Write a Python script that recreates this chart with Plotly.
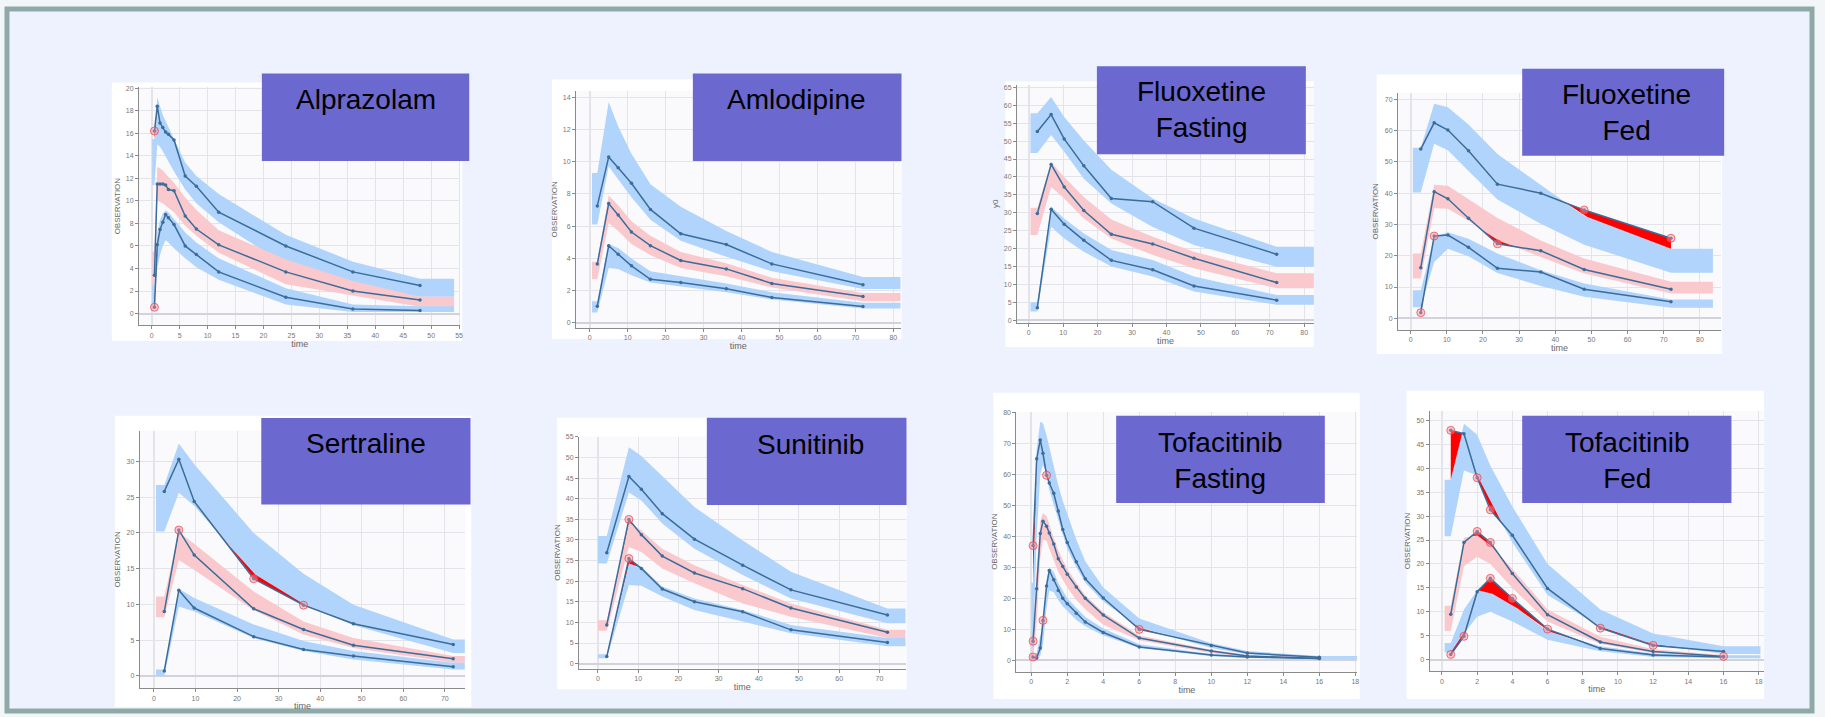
import numpy as np
import plotly.graph_objects as go

# ---------------- data ----------------
# Alprazolam
ALP_T = [0.5, 1, 1.5, 2, 2.5, 3, 4, 6, 8, 12, 24, 36, 48]
ALP_P95 = [16.2, 18.4, 16.9, 16.5, 16.1, 15.9, 15.4, 12.2, 11.3, 9.0, 6.0, 3.7, 2.5]
ALP_P50 = [3.4, 11.5, 11.5, 11.5, 11.4, 11.0, 10.9, 8.65, 7.5, 6.1, 3.7, 2.0, 1.2]
ALP_P05 = [0.56, 6.1, 7.45, 8.1, 8.8, 8.5, 7.9, 6.0, 5.25, 3.7, 1.45, 0.4, 0.27]
ALP_P95_LO = [11.4, 15.0, 14.8, 14.4, 14.0, 13.5, 12.6, 11.0, 9.8, 8.1, 4.3, 2.55, 1.5]
ALP_P95_HI = [15.5, 19.2, 18.4, 17.6, 17.0, 16.4, 15.5, 13.4, 12.2, 10.6, 7.0, 4.6, 3.1]
ALP_P50_LO = [2.0, 10.0, 9.9, 9.8, 9.6, 9.4, 9.0, 7.8, 6.9, 5.4, 2.6, 1.6, 0.6]
ALP_P50_HI = [5.5, 13.0, 12.9, 12.7, 12.4, 12.1, 11.6, 10.3, 9.2, 7.4, 4.8, 2.9, 1.5]
ALP_P05_LO = [0.9, 4.0, 5.2, 6.0, 6.5, 6.3, 5.8, 4.9, 4.1, 3.0, 0.8, 0.15, 0.15]
ALP_P05_HI = [2.5, 7.2, 8.3, 8.9, 9.15, 9.0, 8.4, 7.2, 6.3, 4.9, 2.25, 0.8, 0.65]
ALP_BAND_X = [0.1, 54.1]

# Amlodipine
AML_T = [2, 5, 7.5, 11, 16, 24, 36, 48, 72]
AML_P95 = [7.26, 10.3, 9.63, 8.66, 7.04, 5.53, 4.86, 3.66, 2.37]
AML_P50 = [3.66, 7.4, 6.69, 5.64, 4.79, 3.87, 3.35, 2.45, 1.63]
AML_P05 = [1.03, 4.79, 4.26, 3.54, 2.7, 2.51, 2.12, 1.58, 1.01]
AML_P95_LO = [6.1, 9.7, 8.9, 7.8, 6.4, 5.1, 4.1, 3.2, 2.1]
AML_P95_HI = [9.3, 13.7, 12.2, 10.5, 8.6, 7.2, 5.7, 4.4, 2.85]
AML_P50_LO = [2.7, 6.2, 5.7, 4.9, 4.2, 3.4, 2.9, 2.2, 1.35]
AML_P50_HI = [3.8, 7.9, 7.3, 6.3, 5.4, 4.4, 3.7, 2.8, 1.85]
AML_P05_LO = [0.65, 3.4, 3.35, 2.95, 2.5, 2.25, 1.9, 1.45, 0.9]
AML_P05_HI = [1.35, 4.9, 4.65, 4.0, 3.2, 2.9, 2.45, 1.9, 1.25]
AML_BAND_X = [0.6, 82]

# Fluoxetine fasting
FLF_T = [2.5, 6.5, 10.3, 16, 24, 36, 48, 72]
FLF_P95 = [52.7, 57.4, 50.6, 43.1, 34.0, 33.1, 25.7, 18.4]
FLF_P50 = [29.8, 43.5, 37.2, 30.6, 24.0, 21.3, 17.3, 10.5]
FLF_P05 = [3.5, 31.0, 26.8, 22.3, 16.7, 14.1, 9.55, 5.6]
FLF_P95_LO = [46.7, 51.7, 47.0, 39.5, 32.6, 26.0, 21.0, 14.9]
FLF_P95_HI = [57.8, 62.3, 56.7, 50.2, 42.0, 34.0, 28.4, 20.5]
FLF_P50_LO = [23.8, 37.2, 34.0, 28.4, 22.8, 18.2, 14.5, 8.9]
FLF_P50_HI = [31.4, 44.2, 40.0, 34.4, 28.1, 23.3, 19.1, 13.1]
FLF_P05_LO = [2.4, 26.1, 22.8, 19.1, 15.0, 12.2, 8.0, 4.3]
FLF_P05_HI = [5.0, 31.7, 28.4, 24.2, 19.6, 16.8, 12.2, 7.05]
FLF_BAND_X = [0.5, 83]

# Fluoxetine fed
FLD_T = [2.8, 6.5, 10.3, 16, 24, 36, 48, 72]
FLD_P95 = [54.1, 62.5, 60.2, 53.6, 42.9, 40.0, 34.6, 25.6]
FLD_P50 = [16.2, 40.5, 38.2, 32.0, 23.8, 21.6, 15.6, 9.3]
FLD_P05 = [1.8, 26.3, 26.6, 22.7, 16.0, 14.8, 9.3, 5.3]
FLD_P95_LO = [40.2, 55.8, 53.7, 47.1, 38.0, 30.2, 23.5, 14.6]
FLD_P95_HI = [54.5, 68.6, 67.5, 62.0, 52.5, 42.7, 32.8, 22.2]
FLD_P50_LO = [12.7, 35.2, 35.0, 31.2, 24.9, 19.6, 14.3, 7.9]
FLD_P50_HI = [20.7, 42.7, 42.4, 38.1, 32.1, 24.9, 19.1, 11.7]
FLD_P05_LO = [3.5, 18.0, 22.2, 19.8, 14.5, 10.3, 6.9, 3.4]
FLD_P05_HI = [9.0, 26.0, 27.5, 25.4, 20.7, 15.4, 11.1, 6.0]
FLD_BAND_X = [0.6, 83.6]

# Sertraline
SER_T = [2.5, 6, 9.7, 24, 36, 48, 72]
SER_P95 = [25.8, 30.3, 24.4, 13.6, 9.9, 7.3, 4.4]
SER_P50 = [9.0, 20.4, 16.9, 9.4, 6.5, 4.3, 2.4]
SER_P05 = [0.7, 12.0, 9.5, 5.5, 3.7, 2.8, 1.3]
SER_P95_LO = [20.2, 25.6, 23.8, 14.3, 10.0, 7.1, 3.2]
SER_P95_HI = [26.7, 32.5, 29.6, 20.0, 14.3, 9.95, 5.1]
SER_P50_LO = [8.2, 16.2, 14.8, 9.2, 5.8, 3.9, 1.85]
SER_P50_HI = [11.1, 20.1, 18.5, 11.8, 7.6, 5.3, 2.8]
SER_P05_LO = [0.0, 9.7, 9.0, 5.3, 3.5, 2.3, 0.9]
SER_P05_HI = [0.9, 12.2, 10.9, 7.2, 4.9, 3.5, 1.85]
SER_BAND_X = [0.5, 74.8]

# Sunitinib
SUN_T = [2.2, 7.7, 10.8, 16, 24, 36, 48, 72]
SUN_P95 = [26.9, 45.4, 42.3, 36.4, 30.2, 23.9, 17.9, 11.8]
SUN_P50 = [9.4, 35.0, 31.3, 26.1, 22.0, 18.2, 13.5, 7.6]
SUN_P05 = [1.7, 25.5, 23.1, 18.1, 15.0, 12.6, 8.2, 5.1]
SUN_P95_LO = [24.3, 41.5, 39.6, 34.0, 27.9, 21.5, 15.8, 9.8]
SUN_P95_HI = [31.0, 52.5, 50.4, 45.6, 38.0, 29.9, 22.3, 13.4]
SUN_P50_LO = [8.0, 28.3, 27.1, 23.1, 19.5, 14.6, 11.4, 6.2]
SUN_P50_HI = [10.5, 34.4, 32.3, 27.9, 23.9, 19.1, 14.6, 8.2]
SUN_P05_LO = [1.3, 19.1, 18.9, 16.3, 13.0, 10.2, 7.4, 4.2]
SUN_P05_HI = [2.25, 24.3, 23.5, 18.7, 15.8, 13.0, 9.4, 6.2]
SUN_BAND_X = [0.0, 76.7]

# Tofacitinib fasting
TFA_T = [0.1, 0.3, 0.5, 0.65, 0.85, 1.0, 1.25, 1.5, 1.75, 2.0, 2.5, 3.0, 4.0, 6.0, 10.0, 12.0, 16.0]
TFA_P95 = [37.0, 65.0, 71.1, 66.8, 59.7, 57.2, 53.9, 48.2, 42.2, 38.0, 31.8, 26.3, 20.1, 10.0, 4.8, 2.35, 1.0]
TFA_P50 = [6.2, 23.1, 40.9, 44.9, 43.3, 41.1, 37.5, 32.8, 30.3, 27.8, 23.7, 20.0, 14.6, 7.2, 3.0, 1.4, 0.6]
TFA_P05 = [1.1, 0.8, 4.0, 12.9, 24.0, 29.0, 26.0, 22.5, 20.0, 18.3, 15.2, 12.4, 9.0, 4.3, 1.7, 1.1, 0.6]
TFA_P95_LO = [3.0, 40.0, 60.0, 63.0, 60.5, 55.0, 50.0, 45.0, 40.5, 36.0, 30.0, 25.0, 19.0, 10.5, 4.0, 2.0, 0.6]
TFA_P95_HI = [25.0, 68.0, 77.0, 76.5, 72.5, 69.0, 63.0, 56.5, 51.5, 47.0, 39.0, 32.0, 23.5, 13.5, 5.5, 3.0, 1.4]
TFA_P50_LO = [0.3, 12.0, 33.0, 39.0, 38.5, 36.0, 32.0, 28.5, 26.0, 23.5, 19.5, 16.5, 11.5, 6.5, 2.4, 1.0, 0.4]
TFA_P50_HI = [4.0, 30.0, 45.0, 47.5, 46.5, 43.5, 39.5, 35.5, 32.5, 29.5, 25.0, 21.0, 15.5, 8.0, 3.4, 1.8, 0.9]
TFA_P05_LO = [0.0, 0.0, 1.5, 5.0, 17.0, 22.5, 22.0, 19.5, 17.5, 16.0, 13.0, 11.0, 8.0, 4.0, 1.3, 0.8, 0.4]
TFA_P05_HI = [0.8, 2.5, 8.0, 11.0, 26.0, 30.0, 28.5, 25.0, 22.5, 20.0, 17.0, 14.0, 10.3, 5.2, 2.1, 1.3, 0.8]
TFA_BAND_X = [0.0, 18.1]

# Tofacitinib fed
TFE_T = [0.5, 1.25, 2.0, 2.75, 4.0, 6.0, 9.0, 12.0, 16.0]
TFE_P95 = [47.9, 47.2, 38.0, 31.3, 26.0, 14.9, 6.6, 3.0, 1.7]
TFE_P50 = [9.5, 24.5, 26.8, 24.5, 18.0, 9.4, 3.7, 1.7, 0.7]
TFE_P05 = [1.1, 4.9, 14.2, 17.0, 12.8, 6.4, 2.35, 1.0, 0.6]
TFE_P95_LO = [25.8, 39.5, 38.5, 33.0, 24.5, 13.5, 6.9, 3.2, 1.2]
TFE_P95_HI = [37.6, 49.3, 47.0, 40.5, 32.0, 20.0, 10.5, 5.5, 2.8]
TFE_P50_LO = [6.0, 19.5, 21.5, 20.0, 15.0, 8.0, 3.3, 1.4, 0.75]
TFE_P50_HI = [11.3, 25.5, 26.0, 24.0, 19.0, 10.5, 4.8, 2.2, 1.0]
TFE_P05_LO = [1.5, 5.5, 9.0, 10.0, 8.0, 4.2, 1.8, 0.6, 0.3]
TFE_P05_HI = [3.5, 10.5, 14.5, 14.0, 11.5, 6.0, 2.8, 1.3, 0.8]
TFE_BAND_X = [0.15, 18.1]

TITLES = ["Alprazolam", "Amlodipine", "Fluoxetine<br>Fasting", "Fluoxetine<br>Fed",
          "Sertraline", "Sunitinib", "Tofacitinib<br>Fasting", "Tofacitinib<br>Fed"]
Y_TITLES = ["OBSERVATION", "OBSERVATION", "y0", "OBSERVATION",
            "OBSERVATION", "OBSERVATION", "OBSERVATION", "OBSERVATION"]
X_TITLE = "time"

# ---------------- layout geometry (pixels) ----------------
W, H = 1825, 717
GEOM = [
    # plot domain x0,x1,y0,y1 ; x range ; y range ; dtick x,y ; card ; title box ; title text centre
    dict(dom=(139.3, 461, 84.5, 324), xr=(-2.25, 55.2), yr=(-1.03, 20.1), dx=5, dy=2,
         card=(112, 80, 463, 340), box=(262.3, 71, 470, 159), txt=(366.7, 96.7)),
    dict(dom=(577, 902, 88.3, 326.7), xr=(-3.6, 81.9), yr=(-0.31, 14.4), dx=10, dy=2,
         card=(553, 77, 903, 338), box=(694, 71, 903, 159), txt=(798, 96.7)),
    dict(dom=(1018.7, 1316, 82.7, 321.3), xr=(-3.4, 82.8), yr=(-0.65, 65.6), dx=10, dy=5,
         card=(1007, 79, 1316, 346), box=(1098.7, 63.7, 1308, 152), txt=(1203.7, 107)),
    dict(dom=(1400.3, 1723.7, 90.3, 328.7), xr=(-3.5, 85.8), yr=(-3.7, 72.1), dx=10, dy=10,
         card=(1379, 72, 1725, 353), box=(1524.7, 66, 1727, 153.7), txt=(1629.3, 110.3)),
    dict(dom=(140, 466, 430, 689), xr=(-3.4, 74.9), yr=(-1.7, 34.3), dx=10, dy=5,
         card=(115, 415, 472, 708), box=(261.7, 417.3, 471.3, 504.3), txt=(366.3, 443.3)),
    dict(dom=(580, 907, 436, 669.3), xr=(-4.7, 76.5), yr=(-1.2, 55.1), dx=10, dy=5,
         card=(558, 417, 908, 690), box=(708, 417, 908, 504.7), txt=(812, 444.3)),
    dict(dom=(1018, 1359.7, 411, 672.3), xr=(-0.83, 18.12), yr=(-3.6, 80.2), dx=2, dy=10,
         card=(995, 392, 1362, 700), box=(1118, 415, 1327, 502.7), txt=(1223, 460)),
    dict(dom=(1432, 1766.7, 410, 672), xr=(-0.7, 18.29), yr=(-2.4, 52), dx=2, dy=5,
         card=(1409, 390, 1767, 700), box=(1524.7, 415, 1734.3, 502.7), txt=(1629.7, 460)),
]

DATA = [
    (ALP_T, ALP_P05, ALP_P50, ALP_P95, ALP_P05_LO, ALP_P05_HI, ALP_P50_LO, ALP_P50_HI, ALP_P95_LO, ALP_P95_HI, ALP_BAND_X),
    (AML_T, AML_P05, AML_P50, AML_P95, AML_P05_LO, AML_P05_HI, AML_P50_LO, AML_P50_HI, AML_P95_LO, AML_P95_HI, AML_BAND_X),
    (FLF_T, FLF_P05, FLF_P50, FLF_P95, FLF_P05_LO, FLF_P05_HI, FLF_P50_LO, FLF_P50_HI, FLF_P95_LO, FLF_P95_HI, FLF_BAND_X),
    (FLD_T, FLD_P05, FLD_P50, FLD_P95, FLD_P05_LO, FLD_P05_HI, FLD_P50_LO, FLD_P50_HI, FLD_P95_LO, FLD_P95_HI, FLD_BAND_X),
    (SER_T, SER_P05, SER_P50, SER_P95, SER_P05_LO, SER_P05_HI, SER_P50_LO, SER_P50_HI, SER_P95_LO, SER_P95_HI, SER_BAND_X),
    (SUN_T, SUN_P05, SUN_P50, SUN_P95, SUN_P05_LO, SUN_P05_HI, SUN_P50_LO, SUN_P50_HI, SUN_P95_LO, SUN_P95_HI, SUN_BAND_X),
    (TFA_T, TFA_P05, TFA_P50, TFA_P95, TFA_P05_LO, TFA_P05_HI, TFA_P50_LO, TFA_P50_HI, TFA_P95_LO, TFA_P95_HI, TFA_BAND_X),
    (TFE_T, TFE_P05, TFE_P50, TFE_P95, TFE_P05_LO, TFE_P05_HI, TFE_P50_LO, TFE_P50_HI, TFE_P95_LO, TFE_P95_HI, TFE_BAND_X),
]

BLUE_BAND = "#b0d4fb"
PINK_BAND = "#f9c9cd"
LINE_COL = "#3b6c9a"
RED = "#ff0000"
FONT = "Liberation Sans, Arial, sans-serif"


def xp(v):
    return v / W


def yp(v):
    return 1 - v / H


fig = go.Figure()
shapes = []
annotations = []

# page frame
shapes.append(dict(type="rect", xref="paper", yref="paper", x0=xp(7), x1=xp(1815), y0=yp(712), y1=yp(6),
                   line=dict(color="#8fa9a7", width=5), fillcolor="#edf2fe", layer="below"))

layout_axes = {}
for i, (g, d) in enumerate(zip(GEOM, DATA)):
    n = i + 1
    xa = "x" if n == 1 else f"x{n}"
    ya = "y" if n == 1 else f"y{n}"
    T, p05, p50, p95, l05, h05, l50, h50, l95, h95, bx = d

    # white card + plot background
    cx0, cy0, cx1, cy1 = g["card"]
    shapes.append(dict(type="rect", xref="paper", yref="paper", x0=xp(cx0), x1=xp(cx1), y0=yp(cy1), y1=yp(cy0),
                       line=dict(width=0), fillcolor="#ffffff", layer="below"))
    dx0, dx1, dy0, dy1 = g["dom"]
    shapes.append(dict(type="rect", xref="paper", yref="paper", x0=xp(dx0), x1=xp(dx1), y0=yp(dy1), y1=yp(dy0),
                       line=dict(width=0), fillcolor="#fafafd", layer="below"))
    # title box
    bx0, by0, bx1, by1 = g["box"]
    shapes.append(dict(type="rect", xref="paper", yref="paper", x0=xp(bx0), x1=xp(bx1), y0=yp(by1), y1=yp(by0),
                       line=dict(width=0), fillcolor="#6b69cf", layer="above"))
    tx, ty = g["txt"]
    annotations.append(dict(xref="paper", yref="paper", x=xp(tx), y=yp(ty), text=TITLES[i], showarrow=False,
                            xanchor="center", yanchor="middle", align="center",
                            font=dict(family=FONT, size=28, color="#000000")))

    groups = [(p95, l95, h95, BLUE_BAND), (p50, l50, h50, PINK_BAND), (p05, l05, h05, BLUE_BAND)]
    # prediction interval bands
    for obs, lo, hi, col in groups:
        xs = [bx[0]] + list(T) + [bx[1]]
        lo_s = [lo[0]] + list(lo) + [lo[-1]]
        hi_s = [hi[0]] + list(hi) + [hi[-1]]
        fig.add_trace(go.Scatter(x=xs + xs[::-1], y=lo_s + hi_s[::-1], fill="toself", fillcolor=col,
                                 mode="lines", line=dict(width=0), hoverinfo="skip", showlegend=False,
                                 xaxis=xa, yaxis=ya))
    # red areas where observed percentile leaves its interval
    for obs, lo, hi, col in groups:
        tt = np.union1d(np.linspace(T[0], T[-1], 600), np.array(T, dtype=float))
        o = np.interp(tt, T, obs)
        clip = np.clip(o, np.interp(tt, T, lo), np.interp(tt, T, hi))
        fig.add_trace(go.Scatter(x=tt, y=clip, mode="lines", line=dict(width=0), hoverinfo="skip",
                                 showlegend=False, xaxis=xa, yaxis=ya))
        fig.add_trace(go.Scatter(x=tt, y=o, mode="lines", line=dict(width=0), fill="tonexty", fillcolor=RED,
                                 hoverinfo="skip", showlegend=False, xaxis=xa, yaxis=ya))
    # observed percentile lines
    for obs, lo, hi, col in groups:
        fig.add_trace(go.Scatter(x=T, y=obs, mode="lines+markers", line=dict(color=LINE_COL, width=1.5),
                                 marker=dict(size=3.5, color=LINE_COL), showlegend=False, xaxis=xa, yaxis=ya))
    # red circles on outlying points
    for obs, lo, hi, col in groups:
        o = np.array(obs)
        m = (o < np.array(lo)) | (o > np.array(hi))
        if m.any():
            fig.add_trace(go.Scatter(x=np.array(T)[m], y=o[m], mode="markers",
                                     marker=dict(size=8, color="rgba(255,140,150,0.45)",
                                                 line=dict(color="rgba(235,70,80,0.75)", width=1)),
                                     showlegend=False, xaxis=xa, yaxis=ya))

    common = dict(showgrid=True, gridcolor="#e3e3ea", gridwidth=1, showline=True, linecolor="#8a8a8a",
                  linewidth=1, ticks="outside", ticklen=3, tickcolor="#8a8a8a",
                  tickfont=dict(family=FONT, size=7, color="#777777"), fixedrange=True)
    layout_axes["xaxis" if n == 1 else f"xaxis{n}"] = dict(
        common, domain=[xp(dx0), xp(dx1)], range=list(g["xr"]), dtick=g["dx"], tick0=0,
        zeroline=True, zerolinecolor="#e3e3ea", anchor=ya,
        title=dict(text=X_TITLE, font=dict(family=FONT, size=9, color="#666666"), standoff=2))
    layout_axes["yaxis" if n == 1 else f"yaxis{n}"] = dict(
        common, domain=[yp(dy1), yp(dy0)], range=list(g["yr"]), dtick=g["dy"], tick0=0,
        zeroline=True, zerolinecolor="#d2d2da", anchor=xa,
        title=dict(text=Y_TITLES[i], font=dict(family=FONT, size=8, color="#666666"), standoff=4))

fig.update_layout(width=W, height=H, margin=dict(l=0, r=0, t=0, b=0), autosize=False,
                  paper_bgcolor="#f3f6f8", plot_bgcolor="#fafafd", showlegend=False,
                  font=dict(family=FONT), shapes=shapes, annotations=annotations, **layout_axes)

fig.write_html("out.html", config={"displayModeBar": False},
               post_script="document.body.style.margin='0';document.body.style.overflow='hidden';")
